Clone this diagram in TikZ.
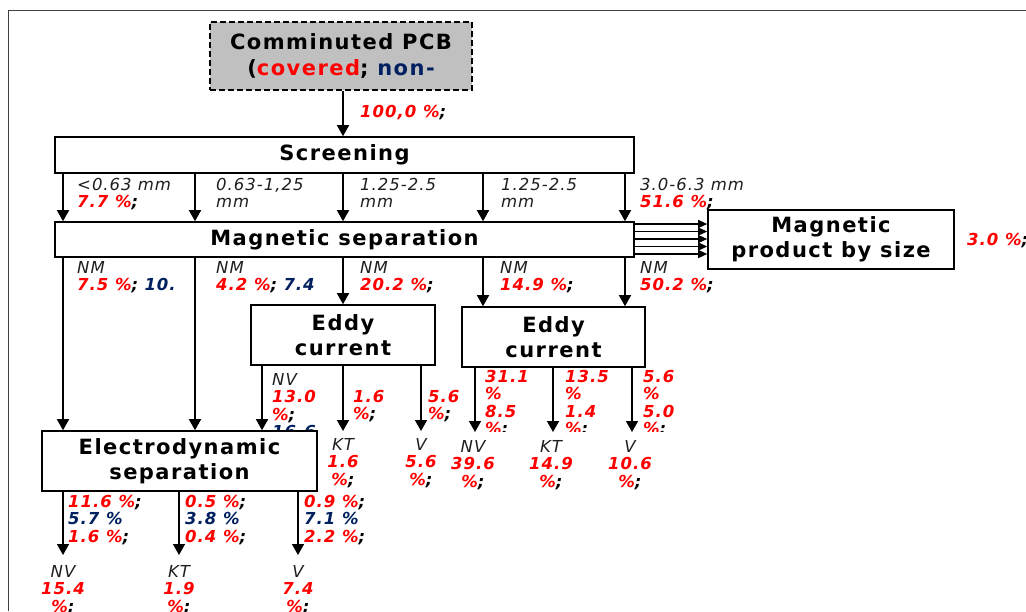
\documentclass[tikz,border=0pt]{standalone}
\usepackage{fontspec}
\usetikzlibrary{arrows.meta}
\newfontfamily\dvlbl[LetterSpace=6]{DejaVu Sans}
\newfontfamily\dvbox[LetterSpace=7]{DejaVu Sans}
\definecolor{pcred}{RGB}{255,0,0}
\definecolor{pcnavy}{RGB}{0,32,96}
\definecolor{pcgrey}{RGB}{192,192,192}
\definecolor{pctext}{RGB}{30,30,30}
\newcommand\lblfont{\dvlbl\itshape\fontsize{16.5}{17.5}\selectfont}
\newcommand\boxfont{\dvbox\bfseries\fontsize{21}{25.5}\selectfont}
\newcommand\R[1]{\textcolor{pcred}{\bfseries #1}}
\newcommand\B[1]{\textcolor{pcnavy}{\bfseries #1}}
\newcommand\K[1]{\textcolor{black}{\bfseries #1}}
\tikzset{
  box/.style={draw, line width=1.6pt, fill=white, inner sep=0pt, font=\boxfont, align=center},
  lbl/.style={anchor=north west, inner sep=0pt, align=left, font=\lblfont, text=pctext},
  outlbl/.style={anchor=north, inner sep=0pt, align=center, font=\lblfont, text=pctext},
  arr/.style={line width=1.5pt, -{Triangle[length=11pt,width=12pt]}},
  sarr/.style={line width=1.2pt, -{Triangle[length=9pt,width=8pt]}}
}
\begin{document}
\begin{tikzpicture}[x=1pt,y=-1pt]
\useasboundingbox (0,0) rectangle (1026,611);
\draw[line width=1pt, black!75] (8,611) -- (8,10) -- (1026,10);

% column coordinates
\coordinate (c63) at (63,0);
\coordinate (c195) at (195,0);
\coordinate (c343) at (343,0);
\coordinate (c483) at (483,0);
\coordinate (c625) at (625,0);
\coordinate (c262) at (262,0);
\coordinate (c421) at (421,0);
\coordinate (c475) at (475,0);
\coordinate (c553) at (553,0);
\coordinate (c632) at (632,0);
\coordinate (c179) at (179,0);
\coordinate (c298) at (298,0);

% labels drawn first (some are covered by boxes)
\node[lbl] (l100) at (360,105) {\R{100,0 \%}\K{;}};
\node[lbl] (s1) at (77,178) {<0.63 mm\\\R{7.7 \%}\K{;}};
\node[lbl] (s2) at (216,178) {0.63-1,25\\mm};
\node[lbl] (s3) at (360,178) {1.25-2.5\\mm};
\node[lbl] (s4) at (501,178) {1.25-2.5\\mm};
\node[lbl] (s5) at (640,178) {3.0-6.3 mm\\\R{51.6 \%}\K{;}};
\node[lbl] (n1) at (77,261) {NM\\\R{7.5 \%}\K{;} \B{10.}};
\node[lbl] (n2) at (216,261) {NM\\\R{4.2 \%}\K{;} \B{7.4}};
\node[lbl] (n3) at (360,261) {NM\\\R{20.2 \%}\K{;}};
\node[lbl] (n4) at (500,261) {NM\\\R{14.9 \%}\K{;}};
\node[lbl] (n5) at (640,261) {NM\\\R{50.2 \%}\K{;}};
\node[lbl] (l30) at (967,233) {\R{3.0 \%}\K{;}};

\node[lbl] (e1a) at (272,373) {NV\\\R{13.0}\\\R{\%}\K{;}\\\B{16.6}};
\node[lbl] (e1b) at (353,390) {\R{1.6}\\\R{\%}\K{;}};
\node[lbl] (e1c) at (428,390) {\R{5.6}\\\R{\%}\K{;}};
\begin{scope}
\clip (450,360) rectangle (720,431);
\node[lbl] (e2a) at (485,370) {\R{31.1}\\\R{\%}\\\R{8.5}\\\R{\%}\K{;}};
\node[lbl] (e2b) at (565,370) {\R{13.5}\\\R{\%}\\\R{1.4}\\\R{\%}\K{;}};
\node[lbl] (e2c) at (643,370) {\R{5.6}\\\R{\%}\\\R{5.0}\\\R{\%}\K{;}};
\end{scope}

\node[outlbl] (o1) at (343,438) {KT\\\R{1.6}\\\R{\%}\K{;}};
\node[outlbl] (o2) at (421,438) {V\\\R{5.6}\\\R{\%}\K{;}};
\node[outlbl] (o3) at (473,440) {NV\\\R{39.6}\\\R{\%}\K{;}};
\node[outlbl] (o4) at (551,440) {KT\\\R{14.9}\\\R{\%}\K{;}};
\node[outlbl] (o5) at (630,440) {V\\\R{10.6}\\\R{\%}\K{;}};

\node[lbl] (d1) at (68,495) {\R{11.6 \%}\K{;}\\\B{5.7 \%}\\\R{1.6 \%}\K{;}};
\node[lbl] (d2) at (185,495) {\R{0.5 \%}\K{;}\\\B{3.8 \%}\\\R{0.4 \%}\K{;}};
\node[lbl] (d3) at (304,495) {\R{0.9 \%}\K{;}\\\B{7.1 \%}\\\R{2.2 \%}\K{;}};

\node[outlbl] (o6) at (63,565) {NV\\\R{15.4}\\\R{\%}\K{;}};
\node[outlbl] (o7) at (179,565) {KT\\\R{1.9}\\\R{\%}\K{;}};
\node[outlbl] (o8) at (298,565) {V\\\R{7.4}\\\R{\%}\K{;}};

% boxes
\node[box, dash pattern=on 6pt off 3pt, fill=pcgrey, minimum width=262pt, minimum height=68pt] (pcb) at (341,56)
  {Comminuted PCB\\(\textcolor{pcred}{covered}; \textcolor{pcnavy}{non-}};
\node[box, minimum width=579pt, minimum height=36pt] (scr) at (344.5,155) {Screening};
\node[box, minimum width=579pt, minimum height=35pt] (mag) at (344.5,239.5) {Magnetic separation};
\node[box, minimum width=246pt, minimum height=59pt] (mprod) at (831,239.5) {Magnetic\\product by size};
\node[box, minimum width=184pt, minimum height=60pt] (ec1) at (343,335) {Eddy\\current};
\node[box, minimum width=183pt, minimum height=60pt] (ec2) at (553.5,337) {Eddy\\current};
\node[box, minimum width=275pt, minimum height=60pt] (eds) at (179.5,461) {Electrodynamic\\separation};

% connectors
\draw[arr] (pcb.south -| c343) -- (scr.north -| c343);
\foreach \c in {c63,c195,c343,c483,c625}
  \draw[arr] (scr.south -| \c) -- (mag.north -| \c);
\foreach \yy in {224,231.5,239,246.5,254}{
  \coordinate (ma) at (634,\yy);
  \draw[sarr] (ma) -- (mprod.west |- ma);
}
\draw[arr] (mag.south -| c63) -- (eds.north -| c63);
\draw[arr] (mag.south -| c195) -- (eds.north -| c195);
\draw[arr] (mag.south -| c343) -- (ec1.north -| c343);
\draw[arr] (mag.south -| c483) -- (ec2.north -| c483);
\draw[arr] (mag.south -| c625) -- (ec2.north -| c625);

\coordinate (t343) at (343,431);
\coordinate (t421) at (421,431);
\draw[arr] (ec1.south -| c262) -- (eds.north -| c262);
\draw[arr] (ec1.south -| c343) -- (t343);
\draw[arr] (ec1.south -| c421) -- (t421);

\coordinate (t475) at (475,432);
\coordinate (t553) at (553,432);
\coordinate (t632) at (632,432);
\draw[arr] (ec2.south -| c475) -- (t475);
\draw[arr] (ec2.south -| c553) -- (t553);
\draw[arr] (ec2.south -| c632) -- (t632);

\coordinate (b63) at (63,555);
\coordinate (b179) at (179,555);
\coordinate (b298) at (298,555);
\draw[arr] (eds.south -| c63) -- (b63);
\draw[arr] (eds.south -| c179) -- (b179);
\draw[arr] (eds.south -| c298) -- (b298);
\end{tikzpicture}
\end{document}
